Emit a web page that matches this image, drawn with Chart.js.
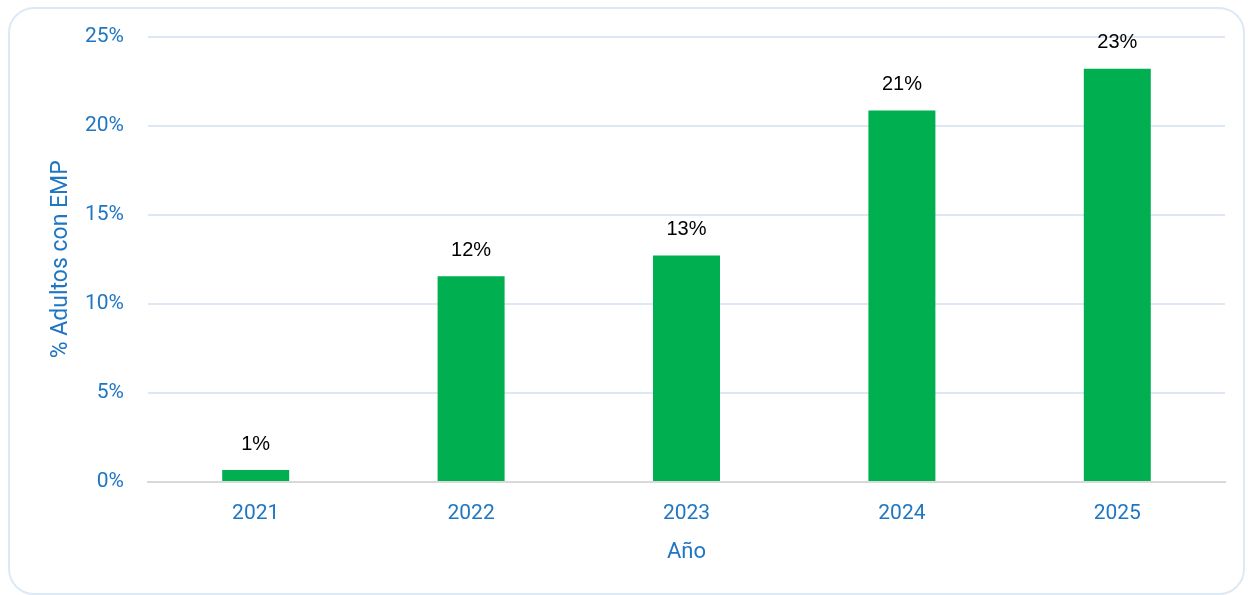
<!DOCTYPE html>
<html>
<head>
<meta charset="utf-8">
<script src="https://cdn.jsdelivr.net/npm/chart.js@4"></script>
<style>
  html, body { margin: 0; padding: 0; background: #ffffff; }
  .card {
    position: absolute; left: 8px; top: 7px; width: 1233px; height: 584px;
    border: 2px solid #dde9f6; border-radius: 26px; box-sizing: content-box;
  }
  #wrap { position: absolute; left: 0; top: 0; width: 1250px; height: 595px; }
</style>
</head>
<body>
<div class="card"></div>
<div id="wrap"><canvas id="chart"></canvas></div>
<script>
const years = ["2021", "2022", "2023", "2024", "2025"];
const adultsEmp = [0.67, 11.55, 12.72, 20.85, 23.2];
const yTicks = [0, 5, 10, 15, 20, 25];

const blue = "#1f76c2";

// labels on top of bars, rounded like the original
const barLabels = {
  id: "barLabels",
  afterDatasetsDraw(chart) {
    const ctx = chart.ctx;
    const meta = chart.getDatasetMeta(0);
    ctx.save();
    ctx.font = "20px 'Liberation Sans', Arial, sans-serif";
    ctx.fillStyle = "#000000";
    ctx.textAlign = "center";
    ctx.textBaseline = "middle";
    meta.data.forEach((bar, i) => {
      ctx.fillText(Math.round(adultsEmp[i]) + "%", bar.x, bar.y - 26);
    });
    ctx.restore();
  }
};

new Chart(document.getElementById("chart"), {
  type: "bar",
  data: {
    labels: years,
    datasets: [{
      label: "% Adultos con EMP",
      data: adultsEmp,
      backgroundColor: "#00b050",
      borderWidth: 0,
      barPercentage: 1,
      categoryPercentage: 0.311
    }]
  },
  options: {
    responsive: true,
    maintainAspectRatio: false,
    animation: false,
    layout: { padding: { left: 0, right: 25, top: 36, bottom: 23 } },
    plugins: { legend: { display: false }, tooltip: { enabled: false } },
    scales: {
      x: {
        grid: { display: false, drawTicks: false },
        border: { color: "#d9d9d9", width: 2 },
        ticks: { color: blue, font: { family: "Roboto", size: 21 }, padding: 19 },
        title: { display: true, text: "Año", color: blue, font: { family: "Roboto", size: 22 }, padding: { top: 0, bottom: 6 } },
        afterFit: (s) => { s.height = 90; }
      },
      y: {
        min: 0,
        max: 25,
        afterBuildTicks: (s) => { s.ticks = yTicks.map((v) => ({ value: v })); },
        grid: { color: (c) => c.tick.value === 0 ? "rgba(0,0,0,0)" : "#dde8f4", lineWidth: 2, drawTicks: false },
        border: { display: false },
        ticks: { color: blue, font: { family: "Roboto", size: 21 }, padding: 24, callback: (v) => v + "%" },
        title: { display: true, text: "% Adultos con EMP", color: blue, font: { family: "Roboto", size: 23 }, padding: { top: 47, bottom: 0 } },
        afterFit: (s) => { s.width = 148; }
      }
    }
  },
  plugins: [barLabels]
});
</script>
</body>
</html>
